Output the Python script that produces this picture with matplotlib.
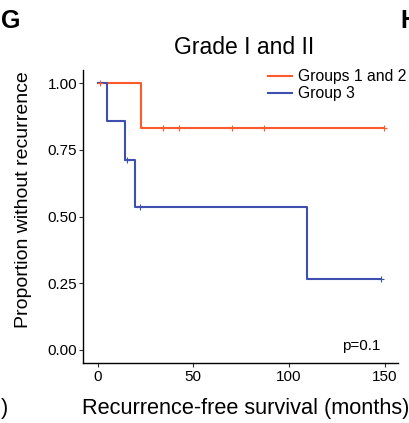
import matplotlib.pyplot as plt

plt.rcParams['font.family'] = ['Liberation Sans', 'DejaVu Sans']

# Kaplan-Meier steps (months, proportion)
g12_times = [0, 22.4, 149.5]
g12_surv = [1.0, 0.833, 0.833]
g12_cens_t = [1.4, 34.4, 42.6, 70.4, 87.1, 149.5]
g12_cens_s = [1.0, 0.833, 0.833, 0.833, 0.833, 0.833]

g3_times = [0, 5.1, 14.4, 19.3, 109.5, 147.9]
g3_surv = [1.0, 0.857, 0.714, 0.536, 0.268, 0.268]
g3_cens_t = [15.6, 22.3, 147.9]
g3_cens_s = [0.714, 0.536, 0.268]

x_ticks = [0, 50, 100, 150]
y_ticks = [0.00, 0.25, 0.50, 0.75, 1.00]
y_tick_labels = ["0.00", "0.25", "0.50", "0.75", "1.00"]

orange = "#FB5B2B"
blue = "#3F4FAF"

W, H = 409, 423
fig = plt.figure(figsize=(W / 100, H / 100), dpi=100)
ax = fig.add_axes([83.3 / W, 1 - 363.3 / H, (398 - 83.3) / W, (363.3 - 70) / H])

ax.step(g12_times, g12_surv, where="post", color=orange, lw=1.5, label="Groups 1 and 2")
ax.step(g3_times, g3_surv, where="post", color=blue, lw=1.5, label="Group 3")
ax.plot(g12_cens_t, g12_cens_s, ls="none", marker="+", ms=4, mew=0.8, color=orange)
ax.plot(g3_cens_t, g3_cens_s, ls="none", marker="+", ms=4, mew=0.8, color=blue)

ax.set_xlim(-7.5, 157)
ax.set_ylim(-0.05, 1.05)
ax.set_xticks(x_ticks)
ax.set_yticks(y_ticks)
ax.set_yticklabels(y_tick_labels)
ax.tick_params(labelsize=11, length=3, width=0.8, color="#333333", labelcolor="black", pad=1.5)
for s in ["top", "right"]:
    ax.spines[s].set_visible(False)
for s in ["left", "bottom"]:
    ax.spines[s].set_linewidth(1.0)

ax.text(147.8, 0.0, "p=0.1", ha="right", va="baseline", fontsize=11)

ax.legend(loc="upper left", bbox_to_anchor=(268.3 / W, 1 - 69.5 / H), bbox_transform=fig.transFigure,
          frameon=False, fontsize=11.3, handlelength=1.5, handletextpad=0.37,
          labelspacing=0.12, borderpad=0, borderaxespad=0)

fig.text(244 / W, 1 - 54.5 / H, "Grade I and II", ha="center", va="baseline", fontsize=16.5)
fig.text(81.7 / W, 1 - 414 / H, "Recurrence-free survival (months)", ha="left", va="baseline", fontsize=15.7)
fig.text(23.5 / W, 1 - 200 / H, "Proportion without recurrence", rotation=90, ha="center", va="center", fontsize=14)
fig.text(1.5 / W, 1 - 28 / H, "G", fontsize=18, fontweight="bold", va="baseline")
fig.text(400 / W, 1 - 28 / H, "H", fontsize=18, fontweight="bold", va="baseline")
fig.text(1 / W, 1 - 414 / H, ")", fontsize=15.7, va="baseline")

fig.savefig("out.png", dpi=100)
